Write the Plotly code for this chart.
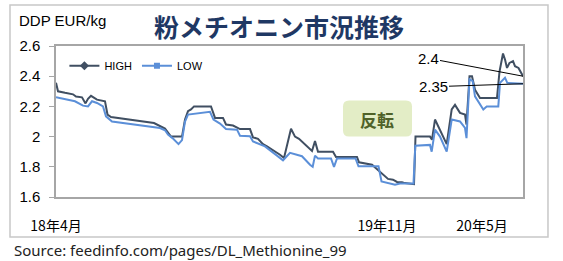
import plotly.graph_objects as go

# time index (abstract weekly-ish position along the category axis)
t_high = [0, 2, 9, 17, 20, 26, 29.5, 32, 35, 38, 41, 49, 51.5, 55, 78, 98, 109, 115, 126, 129, 132, 135, 138, 155,
          159, 167, 170, 177, 184, 194, 197, 202, 207, 211, 224, 228, 235, 239, 243, 253, 256, 259, 262, 277, 280,
          301, 303, 316, 324, 332, 337, 341, 346, 349, 358, 359.5, 374, 376, 379, 384, 390.7, 395.7, 399, 404, 409,
          410.5, 413.5, 416, 419, 424, 441, 443.5, 447, 449, 451, 453.5, 457, 459, 462.5, 467]
high = [2.356, 2.30, 2.29, 2.28, 2.265, 2.26, 2.22, 2.25, 2.27, 2.255, 2.245, 2.234, 2.146, 2.13, 2.106, 2.09, 2.053,
        2.0, 2.0, 2.113, 2.168, 2.18, 2.20, 2.20, 2.124, 2.124, 2.08, 2.073, 2.05, 2.05, 1.995, 1.985, 1.95, 1.935,
        1.88, 1.858, 2.052, 2.0, 1.985, 1.92, 1.905, 1.97, 1.90, 1.90, 1.865, 1.865, 1.83, 1.814, 1.77, 1.72, 1.715,
        1.70, 1.697, 1.692, 1.685, 2.0, 2.0, 1.98, 2.113, 2.046, 1.95, 2.18, 2.21, 2.157, 2.146, 2.08, 2.40, 2.40,
        2.31, 2.256, 2.256, 2.43, 2.55, 2.51, 2.455, 2.488, 2.50, 2.466, 2.455, 2.40]

t_low = [0, 11, 19, 27, 32, 36, 41, 47, 50, 56, 84, 104, 109, 112, 116.5, 122.5, 126, 129, 132, 151, 154, 157.5, 164,
         170, 181, 184, 194, 197, 209, 221, 227, 234, 242, 246, 254, 256.7, 259, 262, 275, 278, 281, 299.5, 302.5,
         322.5, 325.5, 339, 344, 357.5, 359.3, 374, 375.7, 379, 384, 390.7, 395.7, 404, 409, 410.5, 413.5, 416.7,
         419, 424, 427.3, 430.7, 442.3, 444, 447.3, 449, 451.3, 467]
low = [2.26, 2.245, 2.234, 2.205, 2.20, 2.234, 2.223, 2.20, 2.134, 2.10, 2.073, 2.057, 2.042, 2.013, 1.99, 1.95, 1.977,
       2.10, 2.146, 2.164, 2.164, 2.113, 2.086, 2.05, 2.046, 2.006, 2.002, 1.968, 1.935, 1.874, 1.843, 1.892, 1.88,
       1.87, 1.814, 1.80, 1.874, 1.855, 1.855, 1.80, 1.855, 1.855, 1.803, 1.803, 1.703, 1.682, 1.69, 1.69, 1.94,
       1.945, 1.90, 2.046, 2.0, 1.90, 2.113, 2.10, 2.057, 1.99, 2.38, 2.367, 2.267, 2.212, 2.18, 2.2, 2.2, 2.356,
       2.378, 2.39, 2.356, 2.35]

tick_pos = [0, 331, 426]
tick_text = ["18年4月", "19年11月", "20年5月"]

HIGH_C = "#404f62"
LOW_C = "#5b8fd8"
LATIN = "Liberation Sans, Arial, sans-serif"
CJK = "Noto Sans CJK JP, sans-serif"

fig = go.Figure()
fig.add_trace(go.Scatter(x=t_high, y=high, mode="lines", line=dict(color=HIGH_C, width=2), showlegend=False))
fig.add_trace(go.Scatter(x=t_low, y=low, mode="lines", line=dict(color=LOW_C, width=2), showlegend=False))
fig.add_trace(go.Scatter(x=[None], y=[None], mode="lines+markers", name="HIGH",
                         line=dict(color=HIGH_C, width=2), marker=dict(symbol="diamond", size=7, color=HIGH_C)))
fig.add_trace(go.Scatter(x=[None], y=[None], mode="lines+markers", name="LOW",
                         line=dict(color=LOW_C, width=2), marker=dict(symbol="square", size=6, color=LOW_C)))

x_end = t_high[-1]

fig.update_layout(
    width=563, height=261,
    margin=dict(l=56, r=40, t=46, b=64),
    paper_bgcolor="white", plot_bgcolor="white",
    font=dict(family=LATIN, color="black"),
    showlegend=True,
    legend=dict(orientation="h", x=0.018, y=0.965, xanchor="left", yanchor="top",
                font=dict(size=11, family=LATIN, color="black"), bgcolor="rgba(0,0,0,0)",
                itemwidth=30, tracegroupgap=0),
    xaxis=dict(range=[0, x_end], showgrid=False, zeroline=False, showline=True, mirror=True,
               linecolor="#a6a6a6", linewidth=1.5, tickvals=tick_pos, ticktext=tick_text, ticks="",
               ticklabelstandoff=15, tickfont=dict(family=CJK, size=14, color="black")),
    yaxis=dict(range=[1.6, 2.6], dtick=0.2, showgrid=False, zeroline=False, showline=True, mirror=True,
               linecolor="#a6a6a6", linewidth=1.5, ticks="outside", ticklen=5, tickcolor="#a6a6a6",
               ticklabelstandoff=6, tickfont=dict(family=LATIN, size=15, color="black")),
)

shapes = [
    dict(type="rect", xref="paper", yref="paper", x0=-0.0985, x1=1.0535, y0=-0.265, y1=1.2715,
         line=dict(color="#c8c8c8", width=1.5), layer="below"),
    dict(type="path", xref="x", yref="y",
         path="M 293,2.2386 L 350,2.2386 Q 356,2.2386 356,2.1986 L 356,2.04 Q 356,2.0 350,2.0 "
              "L 293,2.0 Q 287,2.0 287,2.04 L 287,2.1986 Q 287,2.2386 293,2.2386 Z",
         fillcolor="#e3edc6", line=dict(width=0), layer="below"),
]

annotations = [
    dict(text="<b>粉メチオニン市況推移</b>", xref="paper", yref="paper", x=0.478, y=1.132,
         xanchor="center", yanchor="middle",
         showarrow=False, font=dict(family=CJK, size=25, color="#1f3864")),
    dict(text="DDP EUR/kg", xref="paper", yref="paper", x=-0.0835, y=1.172, xanchor="left", yanchor="middle",
         showarrow=False, font=dict(family=LATIN, size=15, color="black")),
    dict(text="<b>反転</b>", xref="x", yref="y", x=321, y=2.112, showarrow=False,
         font=dict(family=CJK, size=17, color="#4f6228")),
    dict(text="2.4", xref="x", yref="y", x=x_end, y=high[-1], ax=-95, ay=-18, showarrow=True,
         arrowhead=0, arrowwidth=1, arrowcolor="black", font=dict(family=LATIN, size=15, color="black")),
    dict(text="2.35", xref="x", yref="y", x=x_end, y=low[-1], ax=-90, ay=3, showarrow=True,
         arrowhead=0, arrowwidth=1, arrowcolor="black", font=dict(family=LATIN, size=15, color="black")),
    dict(text="Source: feedinfo.com/pages/DL_Methionine_99", xref="paper", yref="paper",
         x=-0.094, y=-0.351, xanchor="left", yanchor="middle", showarrow=False,
         font=dict(family="Noto Sans, sans-serif", size=15, color="#222")),
]

fig.update_layout(shapes=shapes, annotations=annotations)
fig.write_html("out.html")
